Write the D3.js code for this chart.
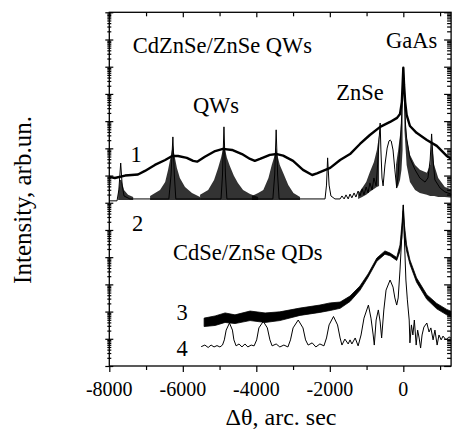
<!DOCTYPE html>
<html>
<head>
<meta charset="utf-8">
<script src="https://cdnjs.cloudflare.com/ajax/libs/d3/7.8.5/d3.min.js"></script>
<style>
  body { margin: 0; background: #fff; }
  svg { display: block; }
  text { font-family: "Liberation Serif", "Times New Roman", serif; fill: #000; }
</style>
</head>
<body>
<div id="chart"></div>
<script>
// x: delta theta, arc sec ; second value: log10 of intensity (arb. un.)
// curve 1 - CdZnSe/ZnSe QWs, measured (thick)
var curve1 = [[-8000,6.95],[-7850,6.91],[-7570,7.00],[-7220,7.04],[-7030,7.17],[-6760,7.39],[-6480,7.57],
  [-6290,7.72],[-6130,7.72],[-5890,7.65],[-5720,7.54],[-5610,7.51],[-5400,7.69],[-5120,7.90],[-4910,7.98],
  [-4660,7.94],[-4390,7.79],[-4170,7.61],[-4040,7.54],[-3900,7.61],[-3630,7.76],[-3440,7.79],[-3270,7.73],
  [-3000,7.54],[-2730,7.21],[-2480,7.02],[-2350,7.08],[-1990,7.28],[-1720,7.57],[-1450,7.79],[-1180,8.16],
  [-910,8.49],[-630,8.79],[-360,8.97],[-170,9.12],[-90,9.26],[-40,9.71],[-20,10.33],[0,10.96],[20,10.33],
  [50,9.71],[90,9.23],[180,8.82],[360,8.57],[640,8.31],[910,8.09],[1180,7.72],[1350,7.57]];

// curve 2 - QWs, simulated (thin)
var curve2 = [[-8000,6.07],[-7790,6.07],[-7740,6.47],[-7690,7.46],[-7650,6.65],[-7600,6.25],[-7440,6.14],
  [-6380,6.14],[-6320,7.02],[-6270,8.42],[-6230,7.02],[-6190,6.14],[-4960,6.14],[-4920,7.02],[-4880,8.79],
  [-4840,7.02],[-4800,6.14],[-3550,6.14],[-3500,7.02],[-3460,8.68],[-3420,7.02],[-3380,6.14],[-2130,6.14],
  [-2090,6.65],[-2060,7.65],[-2020,6.65],[-1970,6.25],[-1860,6.14],[-1720,6.14],[-1670,6.25],[-1610,6.14],
  [-1560,6.29],[-1500,6.14],[-1450,6.32],[-1400,6.18],[-1340,6.36],[-1290,6.21],[-1230,6.43],[-1180,6.25],
  [-1120,6.51],[-1070,6.29],[-1010,6.58],[-960,6.36],[-910,6.73],[-850,6.47],[-800,6.91],[-740,6.62],
  [-700,7.39],[-660,8.31],[-630,8.93],[-610,7.94],[-580,6.91],[-550,6.62],[-500,7.39],[-440,8.01],
  [-390,8.27],[-360,8.31],[-330,8.27],[-280,7.94],[-230,7.21],[-180,6.54],[-140,7.02],[-110,7.76],
  [-60,8.68],[-30,9.78],[0,10.96],[30,9.78],[60,8.86],[90,8.38],[180,7.65],[320,7.21],[450,6.91],
  [590,6.76],[670,6.91],[730,7.57],[770,8.53],[810,7.57],[860,6.84],[1000,6.54],[1130,6.40],[1350,6.29]];

// dense thickness fringes of curve 2: [x, upper log10 I, lower log10 I]
var fringes1 = [[-7760,6.29,6.10],[-7710,6.84,6.10],[-7670,6.84,6.10],[-7600,6.47,6.10],[-7490,6.29,6.10],[-7350,6.21,6.10]];
var fringes2 = [[-6890,6.25,6.10],[-6620,6.47,6.10],[-6480,6.76,6.10],[-6400,7.21,6.10],[-6320,7.76,6.10],
  [-6270,8.13,6.10],[-6230,7.76,6.10],[-6160,7.28,6.10],[-6080,6.91,6.10],[-5940,6.58,6.10],[-5750,6.36,6.10],[-5530,6.21,6.10]];
var fringes3 = [[-5530,6.29,6.10],[-5310,6.47,6.10],[-5150,6.84,6.10],[-5040,7.28,6.10],[-4960,7.65,6.10],
  [-4880,8.13,6.10],[-4800,7.65,6.10],[-4720,7.35,6.10],[-4610,6.99,6.10],[-4500,6.73,6.10],[-4360,6.47,6.10],
  [-4170,6.32,6.10],[-3950,6.21,6.10]];
var fringes4 = [[-4120,6.25,6.10],[-3950,6.36,6.10],[-3810,6.47,6.10],[-3670,6.91,6.10],[-3580,7.39,6.10],
  [-3520,7.65,6.10],[-3460,8.01,6.10],[-3410,7.65,6.10],[-3360,7.39,6.10],[-3270,7.10,6.10],[-3130,6.65,6.10],
  [-2990,6.36,6.10],[-2810,6.21,6.10]];
var fringesZnSe = [[-1230,6.32,6.14],[-1120,6.54,6.21],[-1010,6.76,6.29],[-910,7.13,6.40],[-800,7.50,6.51],
  [-720,7.94,6.58],[-660,8.49,6.62]];
var fringesGaAsL = [[-200,7.39,6.54],[-140,7.94,6.62],[-90,8.49,6.84],[-50,9.12,7.21],[-20,9.96,7.94]];
var fringesGaAsR = [[30,9.78,8.68],[90,8.38,7.39],[180,7.76,6.76],[320,7.39,6.47],[450,7.21,6.36],[640,7.10,6.29],
  [730,7.39,6.25],[770,8.31,6.25],[840,7.39,6.25],[950,6.91,6.21],[1130,6.58,6.21],[1350,6.47,6.18]];

// curve 3 - CdSe/ZnSe QDs, measured (noisy band): [x, upper, lower]
var curve3 = [[-5420,1.76,1.45],[-5120,1.84,1.49],[-4850,1.95,1.60],[-4580,1.88,1.56],[-4170,2.02,1.67],
  [-3760,1.95,1.60],[-3360,1.99,1.67],[-2810,2.13,1.86],[-2270,2.24,1.97],[-1990,2.32,2.04],[-1720,2.35,2.12],
  [-1450,2.57,2.37],[-1180,2.94,2.78],[-960,3.38,3.26],[-720,3.97,3.85],[-500,4.23,4.11],[-360,4.15,4.05],
  [-180,3.99,3.88],[-90,4.45,4.22],[-40,5.18,4.70],[0,5.92,5.70],[30,5.18,4.70],[90,4.45,4.22],[180,3.90,3.74],
  [360,3.24,3.08],[640,2.62,2.45],[910,2.30,2.10],[1180,2.08,1.88],[1350,1.98,1.78]];

// curve 4 - QDs, simulated (thin)
var curve4 = [[-5500,0.71],[-5400,0.77],[-5310,0.68],[-5230,0.77],[-5150,0.70],[-5070,0.75],[-4990,0.70],
  [-4920,0.77],[-4870,0.96],[-4820,1.32],[-4730,1.58],[-4650,1.32],[-4610,0.96],[-4550,0.74],[-4470,0.81],
  [-4390,0.70],[-4310,0.81],[-4230,0.70],[-4140,0.77],[-4060,0.74],[-3990,0.96],[-3930,1.40],[-3810,1.64],
  [-3700,1.40],[-3630,0.96],[-3570,0.74],[-3460,0.81],[-3360,0.70],[-3250,0.77],[-3140,0.70],[-3070,0.96],
  [-3000,1.40],[-2860,1.69],[-2730,1.40],[-2660,0.96],[-2590,0.77],[-2480,0.85],[-2380,0.70],[-2270,0.81],
  [-2160,0.74],[-2090,1.03],[-2020,1.51],[-1900,1.82],[-1790,1.51],[-1720,1.03],[-1670,0.77],[-1590,0.99],
  [-1500,0.81],[-1450,0.96],[-1400,0.81],[-1310,1.03],[-1230,0.74],[-1150,1.14],[-1070,1.76],[-950,2.24],
  [-880,1.76],[-820,1.14],[-790,0.77],[-740,1.69],[-680,2.06],[-630,1.62],[-590,1.03],[-530,2.06],
  [-470,2.79],[-360,3.16],[-280,2.90],[-230,2.50],[-180,2.24],[-140,2.50],[-90,3.53],[-40,4.82],[0,5.92],
  [30,4.63],[70,3.16],[110,2.43],[160,1.69],[180,0.85],[220,1.51],[260,1.14],[300,1.69],[350,0.77],
  [390,1.32],[430,1.03],[470,0.66],[510,1.14],[560,1.43],[640,1.58],[700,1.25],[750,1.40],[810,0.96],
  [860,1.32],[920,0.77],[970,1.14],[1030,0.96],[1080,1.10],[1160,0.96],[1240,1.07],[1350,0.99]];

var xMajor = [-8000, -6000, -4000, -2000, 0];
var xMinor = [-7000, -5000, -3000, -1000, 1000];
var xTickLabels = ["-8000", "-6000", "-4000", "-2000", "0"];

var width = 453, height = 429;
var plotLeft = 109.3, plotRight = 451.1, plotTop = 12.3, plotBottom = 366;

var svg = d3.select("#chart").append("svg")
  .attr("width", width)
  .attr("height", height);

var x = d3.scaleLinear().domain([-8000, 1300]).range([plotLeft, plotRight]);
var y = d3.scaleLog().domain([1, 1e13]).range([plotBottom, plotTop]);
var py = function(v) { return y(Math.pow(10, v)); };

svg.append("clipPath").attr("id", "plot")
  .append("rect").attr("x", plotLeft).attr("y", plotTop)
  .attr("width", plotRight - plotLeft).attr("height", plotBottom - plotTop);

var g = svg.append("g").attr("clip-path", "url(#plot)");

var line = d3.line().x(d => x(d[0])).y(d => py(d[1]));
var band = d3.area().x(d => x(d[0])).y0(d => py(d[2])).y1(d => py(d[1]));

// fringes of curve 2
[fringes1, fringes2, fringes3, fringes4, fringesZnSe, fringesGaAsL, fringesGaAsR].forEach(function(f) {
  g.append("path").datum(f).attr("d", band).attr("fill", "#000").attr("fill-opacity", 0.8);
});
g.append("path").datum(curve2).attr("d", line)
  .attr("fill", "none").attr("stroke", "#000").attr("stroke-width", 1);
g.append("path").datum(curve1).attr("d", line)
  .attr("fill", "none").attr("stroke", "#000").attr("stroke-width", 2.4).attr("stroke-linejoin", "round");

g.append("path").datum(curve3).attr("d", band)
  .attr("fill", "#000").attr("stroke", "#000").attr("stroke-width", 0.8);
g.append("path").datum(curve4).attr("d", line)
  .attr("fill", "none").attr("stroke", "#000").attr("stroke-width", 1);

// axes
var decades = d3.range(0, 14).map(k => Math.pow(10, k));
var minors = [];
d3.range(0, 13).forEach(function(k) {
  d3.range(2, 10).forEach(function(m) { minors.push(m * Math.pow(10, k)); });
});

function style(sel) {
  sel.select(".domain").remove();
  sel.selectAll("line").attr("stroke", "#000").attr("stroke-width", 1.2);
  return sel;
}

// bottom: outward ticks, labels drawn below
svg.append("g").attr("transform", `translate(0,${plotBottom})`)
  .call(d3.axisBottom(x).tickValues(xMajor).tickSize(6).tickFormat("")).call(style);
svg.append("g").attr("transform", `translate(0,${plotBottom})`)
  .call(d3.axisBottom(x).tickValues(xMinor).tickSize(4).tickFormat("")).call(style);
// top: inward ticks
svg.append("g").attr("transform", `translate(0,${plotTop})`)
  .call(d3.axisTop(x).tickValues(xMajor).tickSize(-5).tickFormat("")).call(style);
svg.append("g").attr("transform", `translate(0,${plotTop})`)
  .call(d3.axisTop(x).tickValues(xMinor).tickSize(-4).tickFormat("")).call(style);
// left: ticks crossing the axis
svg.append("g").attr("transform", `translate(${plotLeft},0)`)
  .call(d3.axisLeft(y).tickValues(decades).tickSize(4).tickFormat("")).call(style);
svg.append("g").attr("transform", `translate(${plotLeft},0)`)
  .call(d3.axisLeft(y).tickValues(decades).tickSize(-4).tickFormat("")).call(style);
svg.append("g").attr("transform", `translate(${plotLeft},0)`)
  .call(d3.axisLeft(y).tickValues(minors).tickSize(2).tickFormat("")).call(style);
svg.append("g").attr("transform", `translate(${plotLeft},0)`)
  .call(d3.axisLeft(y).tickValues(minors).tickSize(-2).tickFormat("")).call(style);
// right: inward ticks
svg.append("g").attr("transform", `translate(${plotRight},0)`)
  .call(d3.axisRight(y).tickValues(decades).tickSize(-7).tickFormat("")).call(style);
svg.append("g").attr("transform", `translate(${plotRight},0)`)
  .call(d3.axisRight(y).tickValues(minors).tickSize(-4).tickFormat("")).call(style);

svg.append("rect")
  .attr("x", plotLeft).attr("y", plotTop)
  .attr("width", plotRight - plotLeft).attr("height", plotBottom - plotTop)
  .attr("fill", "none").attr("stroke", "#000").attr("stroke-width", 1.3);

var serif = "'Liberation Serif', 'Times New Roman', serif";

svg.selectAll(".xlab").data(xMajor).enter().append("text")
  .attr("class", "xlab")
  .attr("x", d => x(d))
  .attr("y", 395.5)
  .attr("text-anchor", "middle")
  .attr("font-family", serif)
  .style("font-size", "20px")
  .text((d, i) => xTickLabels[i]);

svg.append("text")
  .attr("x", 281).attr("y", 425)
  .attr("text-anchor", "middle")
  .attr("font-family", serif)
  .style("font-size", "24px")
  .text("\u0394\u03b8, arc. sec");

svg.append("text")
  .attr("transform", "translate(31,200) rotate(-90)")
  .attr("text-anchor", "middle")
  .attr("font-family", serif)
  .style("font-size", "25px")
  .text("Intensity, arb.un.");

// annotations
var notes = [
  {t: "CdZnSe/ZnSe QWs", x: 132.7, y: 53, a: "start"},
  {t: "QWs", x: 216, y: 113, a: "middle"},
  {t: "ZnSe", x: 360, y: 100, a: "middle"},
  {t: "GaAs", x: 411.7, y: 48, a: "middle"},
  {t: "1", x: 136, y: 161.5, a: "middle"},
  {t: "2", x: 137.5, y: 230.5, a: "middle"},
  {t: "CdSe/ZnSe QDs", x: 173, y: 260, a: "start"},
  {t: "3", x: 182, y: 320, a: "middle"},
  {t: "4", x: 182, y: 356, a: "middle"}
];
svg.selectAll(".note").data(notes).enter().append("text")
  .attr("class", "note")
  .attr("x", d => d.x).attr("y", d => d.y)
  .attr("text-anchor", d => d.a)
  .attr("font-family", serif)
  .style("font-size", "22.5px")
  .text(d => d.t);
</script>
</body>
</html>
